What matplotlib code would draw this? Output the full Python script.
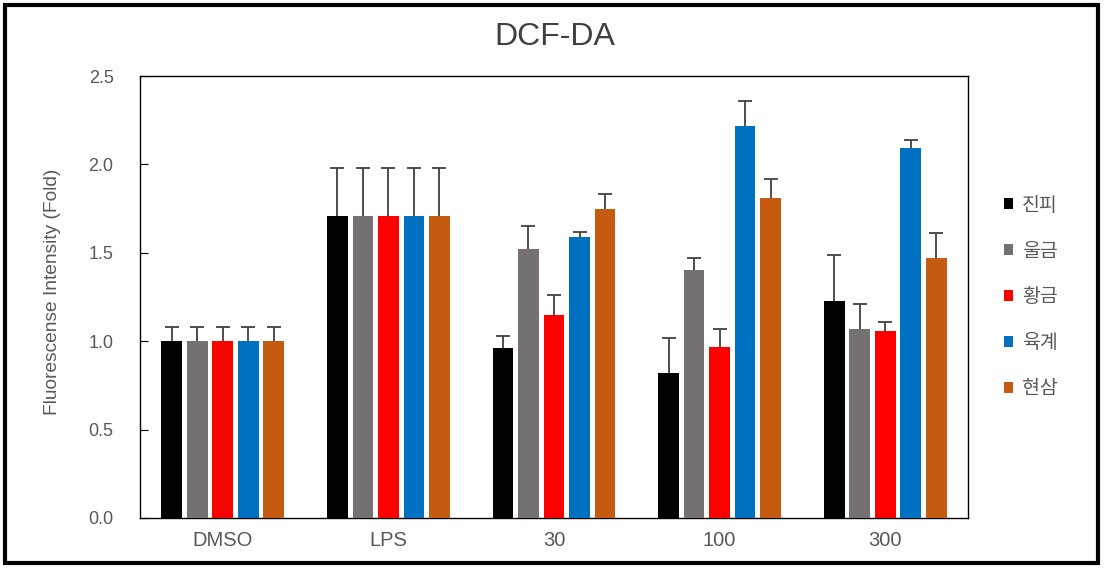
import matplotlib
matplotlib.use("Agg")
import matplotlib.pyplot as plt
import numpy as np
from matplotlib.patches import Patch, Rectangle

plt.rcParams['font.family'] = ['Liberation Sans', 'Noto Sans CJK KR', 'DejaVu Sans']

groups = ["DMSO", "LPS", "30", "100", "300"]
series = ["진피", "울금", "황금", "육계", "현삼"]
colors = ["#000000", "#767171", "#ff0000", "#0070c0", "#c55a11"]

means = [
    [1.00, 1.71, 0.96, 0.82, 1.23],   # 진피
    [1.00, 1.71, 1.52, 1.40, 1.07],   # 울금
    [1.00, 1.71, 1.15, 0.97, 1.06],   # 황금
    [1.00, 1.71, 1.59, 2.22, 2.09],   # 육계
    [1.00, 1.71, 1.75, 1.81, 1.47],   # 현삼
]
errs = [
    [0.08, 0.27, 0.07, 0.20, 0.26],
    [0.08, 0.27, 0.13, 0.07, 0.14],
    [0.08, 0.27, 0.11, 0.10, 0.05],
    [0.08, 0.27, 0.03, 0.14, 0.05],
    [0.08, 0.27, 0.08, 0.11, 0.14],
]

fig = plt.figure(figsize=(11.09, 5.72), dpi=100)
ax = fig.add_axes([140 / 1109, 1 - 518 / 572, (968 - 140) / 1109, (518 - 76) / 572])

x = np.arange(len(groups))
step, width = 0.154, 0.125
for k, (name, c) in enumerate(zip(series, colors)):
    pos = x + (k - 2) * step
    m = np.array(means[k])
    e = np.array(errs[k])
    ax.bar(pos, m, width=width, color=c, zorder=3)
    eb = ax.errorbar(pos, m, yerr=[np.zeros_like(e), e], fmt="none", ecolor="#404040",
                     elinewidth=1.3, capsize=4.7, capthick=1.3, zorder=2)
    # only the upper cap, like the original
    eb.lines[1][0].set_visible(False)

ax.set_xlim(-0.5, 4.5)
ax.set_ylim(0, 2.5)
ticks = np.arange(0, 2.51, 0.5)
ax.set_yticks(ticks)
ax.set_yticklabels([f"{v:.1f}" for v in ticks])
ax.set_xticks(x)
ax.set_xticklabels(groups)
ax.tick_params(axis="y", direction="in", length=6, pad=19, labelsize=13, labelcolor="#595959")
ax.tick_params(axis="x", length=0, pad=9, labelsize=14.5, labelcolor="#595959")
for s in ax.spines.values():
    s.set_linewidth(1.0)
    s.set_color("black")
ax.set_ylabel("Fluorescense Intensity (Fold)", fontsize=13.8, color="#595959")
ax.yaxis.set_label_coords(-0.095, 0.512)

fig.text(555 / 1109, 1 - 37 / 572, "DCF-DA", ha="center", va="center",
         fontsize=23, color="#404040")

handles = [Patch(facecolor=c, edgecolor="none") for c in colors]
fig.legend(handles, series, loc="center left", bbox_to_anchor=(986 / 1109, 1 - 297 / 572),
           frameon=False, labelcolor="#595959", handlelength=0.5,
           handleheight=0.5, handletextpad=0.45, labelspacing=1.28,
           prop={"family": ["Noto Sans CJK KR", "DejaVu Sans"], "size": 14})

fig.patches.append(Rectangle((5 / 1109, 1 - 563 / 572), (1098 - 5) / 1109, (563 - 5) / 572,
                             transform=fig.transFigure, fill=False, edgecolor="black",
                             linewidth=3))

fig.savefig("out.png", dpi=100)
